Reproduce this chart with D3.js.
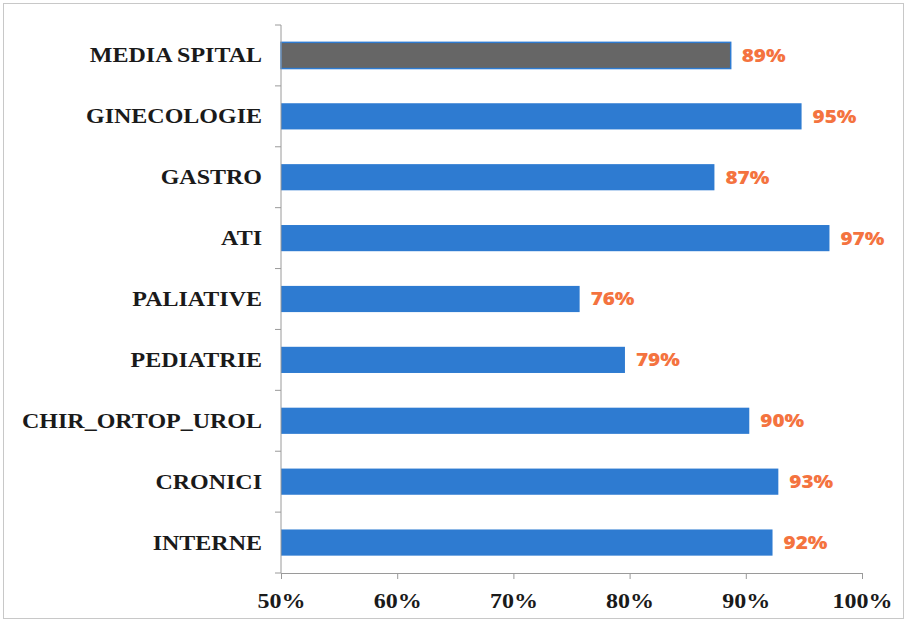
<!DOCTYPE html>
<html><head><meta charset="utf-8">
<script src="https://cdn.jsdelivr.net/npm/d3@7"></script>
<style>body{margin:0;background:#fff}</style>
</head><body>
<svg id="c" width="907" height="622"></svg>
<script>
const categories = ["MEDIA SPITAL","GINECOLOGIE","GASTRO","ATI","PALIATIVE","PEDIATRIE","CHIR_ORTOP_UROL","CRONICI","INTERNE"];
const values = [88.7, 94.8, 87.3, 97.2, 75.7, 79.6, 90.3, 92.8, 92.3];
const labels = ["89%","95%","87%","97%","76%","79%","90%","93%","92%"];
const tickValues = [50,60,70,80,90,100];

const svg = d3.select("#c");
svg.append("rect").attr("x",3.5).attr("y",3.5).attr("width",900).attr("height",615)
  .attr("fill","#fff").attr("stroke","#c8c8c8");

const m = {left:281, right:862, top:25, bottom:573};
const x = d3.scaleLinear().domain([50,100]).range([m.left,m.right]);
const y = d3.scaleBand().domain(categories).range([m.top,m.bottom]).paddingInner(0.57).paddingOuter(0.285);

const data = categories.map((c,i)=>({c, v:values[i], l:labels[i], i}));
const serif = "'Liberation Serif', 'Times New Roman', serif";

svg.selectAll("rect.bar").data(data).join("rect").attr("class","bar")
  .attr("x",x(50)).attr("y",d=>y(d.c)).attr("width",d=>x(d.v)-x(50)).attr("height",y.bandwidth())
  .attr("fill",d=>d.i===0?"#666666":"#2e7bd1")
  .attr("stroke",d=>d.i===0?"#2e7bd1":"none").attr("stroke-width",1.5);

svg.selectAll("text.val").data(data).join("text").attr("class","val")
  .attr("transform",d=>`translate(${x(d.v)+11},${y(d.c)+y.bandwidth()/2}) scale(1.15,1)`).attr("dy","0.36em")
  .attr("font-family","'Open Sans', sans-serif").attr("font-weight","800").attr("font-size",18)
  .attr("fill","#f4733f").text(d=>d.l);

// y axis
const yAxis = g => {
  g.append("line").attr("x1",m.left).attr("x2",m.left).attr("y1",m.top).attr("y2",m.bottom).attr("stroke","#9a9a9a");
  const bounds = d3.range(categories.length+1).map(i=>m.top + i*(m.bottom-m.top)/categories.length);
  g.selectAll("line.t").data(bounds).join("line").attr("class","t")
    .attr("x1",m.left-6).attr("x2",m.left).attr("y1",d=>d).attr("y2",d=>d).attr("stroke","#9a9a9a");
  g.selectAll("text").data(categories).join("text")
    .attr("transform",d=>`translate(262,${y(d)+y.bandwidth()/2}) scale(1.2,1)`).attr("dy","0.35em").attr("text-anchor","end")
    .attr("font-family",serif).attr("font-weight","bold").attr("font-size",20)
    .attr("fill","#1a1a1a").text(d=>d);
};
svg.append("g").call(yAxis);

const xAxis = d3.axisBottom(x).tickValues(tickValues).tickFormat(d=>d+"%").tickSize(6).tickSizeOuter(0);
const gx = svg.append("g").attr("transform",`translate(0,${m.bottom})`).call(xAxis);
gx.select(".domain").attr("stroke","#9a9a9a");
gx.selectAll(".tick line").attr("stroke","#9a9a9a");
gx.selectAll(".tick text").attr("dy",0).attr("y",0)
  .attr("transform","translate(0,35) scale(1.2,1)")
  .attr("font-family",serif).attr("font-weight","bold").attr("font-size",20).attr("fill","#1a1a1a");
</script>
</body></html>
